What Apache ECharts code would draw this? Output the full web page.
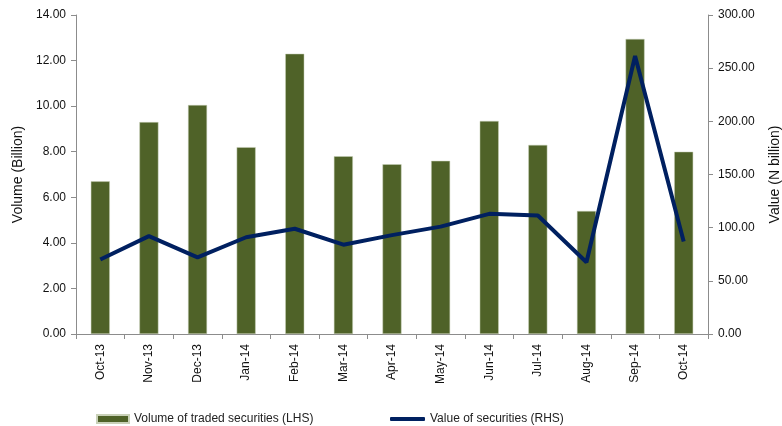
<!DOCTYPE html>
<html>
<head>
<meta charset="utf-8">
<script src="https://cdn.jsdelivr.net/npm/echarts@6/dist/echarts.min.js"></script>
<style>
  html, body { margin: 0; padding: 0; background: #fff; }
  #chart { width: 782px; height: 426px; }
</style>
</head>
<body>
<div id="chart"></div>
<script>
const months = ['Oct-13', 'Nov-13', 'Dec-13', 'Jan-14', 'Feb-14', 'Mar-14', 'Apr-14',
  'May-14', 'Jun-14', 'Jul-14', 'Aug-14', 'Sep-14', 'Oct-14'];
const volume = [6.7, 9.3, 10.05, 8.2, 12.3, 7.8, 7.45, 7.6, 9.35, 8.3, 5.4, 12.95, 8.0];
const value = [70, 92, 72, 91, 99, 84, 93, 101, 113, 111.5, 67.5, 261.5, 87];

const font = 'Liberation Sans';
const axisColor = '#8c8c8c';

let chart = echarts.init(document.getElementById('chart'), null, { renderer: 'canvas' });
chart.setOption({
  animation: false,
  textStyle: { fontFamily: font },
  grid: { left: 76, right: 74, top: 15, bottom: 92, containLabel: false, outerBoundsMode: 'none' },
  legend: [
    {
      left: 91, top: 408,
      itemWidth: 32, itemHeight: 8,
      textStyle: { fontSize: 12, color: '#222', fontFamily: font },
      data: [{ name: 'Volume of traded securities (LHS)', icon: 'rect' }],
    },
    {
      left: 385, top: 408,
      itemWidth: 35, itemHeight: 4,
      textStyle: { fontSize: 12, color: '#222', fontFamily: font },
      data: [{ name: 'Value of securities (RHS)', icon: 'roundRect' }],
    },
  ],
  xAxis: {
    type: 'category',
    data: months,
    axisLine: { lineStyle: { color: axisColor } },
    axisTick: { show: true, alignWithLabel: false, length: 5, lineStyle: { color: axisColor } },
    axisLabel: { rotate: 90, color: '#111', fontSize: 12, margin: 10 },
  },
  yAxis: [
    {
      type: 'value', min: 0, max: 14, interval: 2,
      name: 'Volume (Billion)', nameLocation: 'middle', nameGap: 51, nameRotate: 90,
      nameTextStyle: { fontSize: 14, color: '#111' },
      axisLine: { show: true, lineStyle: { color: axisColor } },
      axisTick: { show: true, length: 5, lineStyle: { color: axisColor } },
      splitLine: { show: false },
      axisLabel: { color: '#111', fontSize: 12, margin: 10, formatter: v => v.toFixed(2) },
    },
    {
      type: 'value', min: 0, max: 300, interval: 50, position: 'right',
      name: 'Value (N billion)', nameLocation: 'middle', nameGap: 60, nameRotate: 90,
      nameTextStyle: { fontSize: 14, color: '#111' },
      axisLine: { show: true, lineStyle: { color: axisColor } },
      axisTick: { show: true, length: 5, lineStyle: { color: axisColor } },
      splitLine: { show: false },
      axisLabel: { color: '#111', fontSize: 12, margin: 10, formatter: v => v.toFixed(2) },
    },
  ],
  series: [
    {
      name: 'Volume of traded securities (LHS)',
      type: 'bar',
      data: volume,
      barWidth: 19,
      itemStyle: { color: '#4f6228', borderColor: '#c9d1b8', borderWidth: 0.5 },
    },
    {
      name: 'Value of securities (RHS)',
      type: 'line',
      yAxisIndex: 1,
      data: value,
      symbol: 'none',
      lineStyle: { color: '#002060', width: 4 },
      itemStyle: { color: '#002060' },
    },
  ],
});
</script>
</body>
</html>
